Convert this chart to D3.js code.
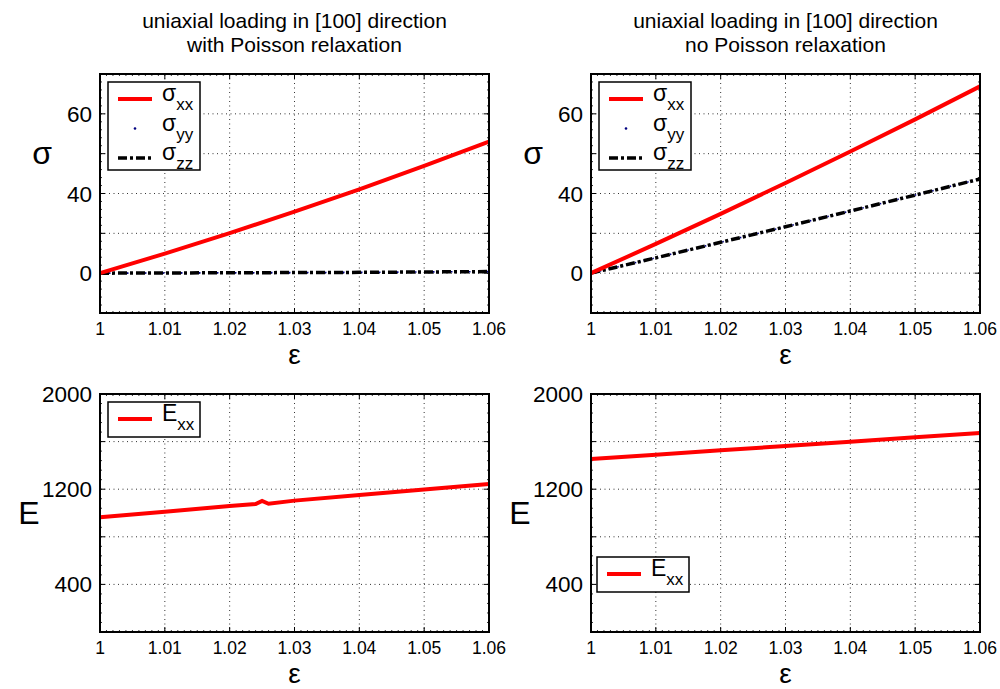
<!DOCTYPE html>
<html>
<head>
<meta charset="utf-8">
<script src="https://cdn.jsdelivr.net/npm/d3@7"></script>
<style>
	body { margin: 0; background: #fff; }
	svg text { font-family: "Liberation Sans", Arial, sans-serif; fill: #000; }
</style>
</head>
<body>
<svg id="svg"></svg>
<script>

// ---------------------------------------------------------------- data -- //

const strain = [1, 1.01, 1.02, 1.03, 1.04, 1.05, 1.06];

// with Poisson relaxation
const sxxRelax = [0, 9.8, 20.1, 30.9, 42.1, 53.9, 66.1];
const syyRelax = [0, 0.1, 0.2, 0.3, 0.4, 0.6, 0.8];
const szzRelax = [0, 0.1, 0.2, 0.3, 0.4, 0.6, 0.8];

// no Poisson relaxation
const sxxFixed = [0, 14.7, 29.8, 45.3, 61.1, 77.2, 93.8];
const syyFixed = [0, 7.7, 15.5, 23.3, 31.2, 39.2, 47.3];
const szzFixed = [0, 7.7, 15.5, 23.3, 31.2, 39.2, 47.3];

const strainE = [1, 1.01, 1.02, 1.024, 1.025, 1.026, 1.03, 1.04, 1.05, 1.06];
const exxRelax = [965, 1011, 1058, 1076, 1102, 1078, 1104, 1151, 1197, 1244];
const exxFixed = [1454, 1490, 1527, 1563, 1599, 1636, 1672];

const xTicks = [1, 1.01, 1.02, 1.03, 1.04, 1.05, 1.06];
const xTickLabels = ["1", "1.01", "1.02", "1.03", "1.04", "1.05", "1.06"];
const sigmaTicks = [0, 20, 40, 60, 80];
const sigmaTickLabels = ["0", "", "40", "", "60"];
const eTicks = [400, 800, 1200, 1600, 2000];
const eTickLabels = ["400", "", "1200", "", "2000"];

const titles = [
	["uniaxial loading in [100] direction", "with Poisson relaxation"],
	["uniaxial loading in [100] direction", "no Poisson relaxation"]
];

// -------------------------------------------------------------- layout -- //

let width = 1000,
	height = 689,
	cols = [[100, 489], [591, 980]],
	rows = [[74, 313], [394, 632]],
	svg;

svg = d3.select("svg#svg")
	.attr("width", width)
	.attr("height", height);

function panel(col, row, yDomain, yTicks, yLabels, yMinor, yName) {

	let [x0, x1] = cols[col],
		[y0, y1] = rows[row];

	let xScale = d3.scaleLinear().domain([1, 1.06]).range([x0, x1]),
		yScale = d3.scaleLinear().domain(yDomain).range([y1, y0]);

	let g = svg.append("g");

	// dotted grid
	g.selectAll("line.gx")
		.data(xTicks.slice(1, -1))
		.enter().append("line")
		.attr("x1", d => xScale(d)).attr("x2", d => xScale(d))
		.attr("y1", y0).attr("y2", y1)
		.attr("stroke", "#333").attr("stroke-width", 1)
		.attr("stroke-dasharray", "1,3.5");
	g.selectAll("line.gy")
		.data(yTicks.filter(d => d < yDomain[1]))
		.enter().append("line")
		.attr("x1", x0).attr("x2", x1)
		.attr("y1", d => yScale(d)).attr("y2", d => yScale(d))
		.attr("stroke", "#333").attr("stroke-width", 1)
		.attr("stroke-dasharray", "1,3.5");

	// minor ticks
	let xMinor = d3.range(1, 1.0605, 0.001);
	[y0, y1].forEach((yy, i) => {
		g.selectAll(null).data(xMinor).enter().append("line")
			.attr("x1", d => xScale(d)).attr("x2", d => xScale(d))
			.attr("y1", yy).attr("y2", yy + (i ? -2 : 2))
			.attr("stroke", "#000").attr("stroke-width", 0.8);
		g.selectAll(null).data(xTicks).enter().append("line")
			.attr("x1", d => xScale(d)).attr("x2", d => xScale(d))
			.attr("y1", yy).attr("y2", yy + (i ? -5 : 5))
			.attr("stroke", "#000").attr("stroke-width", 1);
	});
	let yMinorVals = d3.range(yDomain[0], yDomain[1] + 0.01, yMinor);
	[x0, x1].forEach((xx, i) => {
		g.selectAll(null).data(yMinorVals).enter().append("line")
			.attr("x1", xx).attr("x2", xx + (i ? -2 : 2))
			.attr("y1", d => yScale(d)).attr("y2", d => yScale(d))
			.attr("stroke", "#000").attr("stroke-width", 0.8);
		g.selectAll(null).data(yTicks).enter().append("line")
			.attr("x1", xx).attr("x2", xx + (i ? -5 : 5))
			.attr("y1", d => yScale(d)).attr("y2", d => yScale(d))
			.attr("stroke", "#000").attr("stroke-width", 1);
	});

	// tick labels
	g.selectAll(null).data(xTicks).enter().append("text")
		.attr("x", d => xScale(d))
		.attr("y", y1 + 22)
		.attr("text-anchor", "middle")
		.style("font-size", "17.5px")
		.text((d, i) => xTickLabels[i]);
	g.selectAll(null).data(yTicks).enter().append("text")
		.attr("x", x0 - 8)
		.attr("y", d => yScale(d) + 8)
		.attr("text-anchor", "end")
		.style("font-size", "22.5px")
		.text((d, i) => yLabels[i]);

	// axis names
	g.append("text")
		.attr("x", (x0 + x1) / 2)
		.attr("y", y1 + 51)
		.attr("text-anchor", "middle")
		.style("font-size", "28px")
		.text("\u03b5");
	g.append("text")
		.attr("x", yName === "E" ? x0 - 71 : x0 - 58)
		.attr("y", yName === "E" ? (y0 + y1) / 2 + 11 : (y0 + y1) / 2 - 30)
		.attr("text-anchor", "middle")
		.style("font-size", yName === "E" ? "32px" : "32px")
		.text(yName);

	return { g, xScale, yScale, x0, x1, y0, y1 };
}

function drawLine(p, xs, ys, color, w, dash) {
	let line = d3.line()
		.x((d, i) => p.xScale(xs[i]))
		.y(d => p.yScale(d));
	p.g.append("path")
		.datum(ys)
		.attr("d", line)
		.attr("fill", "none")
		.attr("stroke", color)
		.attr("stroke-width", w)
		.attr("stroke-dasharray", dash || null);
}

function frame(p) {
	p.g.append("rect")
		.attr("x", p.x0).attr("y", p.y0)
		.attr("width", p.x1 - p.x0).attr("height", p.y1 - p.y0)
		.attr("fill", "none")
		.attr("stroke", "#000")
		.attr("stroke-width", 2);
}

function legend(p, x, y, entries) {
	let rowH = 29.5;
	p.g.append("rect")
		.attr("x", x).attr("y", y)
		.attr("width", 92).attr("height", entries.length > 1 ? 88 : 35)
		.attr("fill", "#fff")
		.attr("stroke", "#000")
		.attr("stroke-width", 1.5);
	entries.forEach((e, i) => {
		let cy = y + 17 + i * rowH;
		if (e.kind === "dot") {
			p.g.append("circle")
				.attr("cx", x + 27).attr("cy", cy)
				.attr("r", 1.3).attr("fill", "#000080");
		} else {
			p.g.append("line")
				.attr("x1", x + 10).attr("x2", x + 44)
				.attr("y1", cy).attr("y2", cy)
				.attr("stroke", e.color)
				.attr("stroke-width", e.w)
				.attr("stroke-dasharray", e.dash || null);
		}
		let t = p.g.append("text")
			.attr("x", x + 54)
			.attr("y", cy + 2)
			.style("font-size", "23px");
		t.append("tspan").text(e.sym);
		t.append("tspan")
			.attr("dy", 9)
			.style("font-size", "17px")
			.text(e.sub);
	});
}

// -------------------------------------------------------------- panels -- //

const dashDot = "9,3,3,3";

[[sxxRelax, syyRelax, szzRelax], [sxxFixed, syyFixed, szzFixed]].forEach((set, c) => {
	let p = panel(c, 0, [-20, 100], sigmaTicks, sigmaTickLabels, 4, "\u03c3");
	drawLine(p, strain, set[1], "#000080", 1.6, "1.5,3");
	drawLine(p, strain, set[2], "#000", 3.5, dashDot);
	drawLine(p, strain, set[0], "#ff0000", 4);
	frame(p);
	legend(p, cols[c][0] + 8, 82, [
		{ sym: "\u03c3", sub: "xx", color: "#ff0000", w: 4 },
		{ sym: "\u03c3", sub: "yy", kind: "dot" },
		{ sym: "\u03c3", sub: "zz", color: "#000", w: 3.5, dash: dashDot }
	]);
	titles[c].forEach((t, i) => {
		svg.append("text")
			.attr("x", (cols[c][0] + cols[c][1]) / 2)
			.attr("y", 28 + i * 24)
			.attr("text-anchor", "middle")
			.style("font-size", "21px")
			.text(t);
	});
});

let pE1 = panel(0, 1, [0, 2000], eTicks, eTickLabels, 80, "E");
drawLine(pE1, strainE, exxRelax, "#ff0000", 4);
frame(pE1);
legend(pE1, 108, 402, [{ sym: "E", sub: "xx", color: "#ff0000", w: 4 }]);

let pE2 = panel(1, 1, [0, 2000], eTicks, eTickLabels, 80, "E");
drawLine(pE2, strain, exxFixed, "#ff0000", 4);
frame(pE2);
legend(pE2, 597, 557, [{ sym: "E", sub: "xx", color: "#ff0000", w: 4 }]);

</script>
</body>
</html>
